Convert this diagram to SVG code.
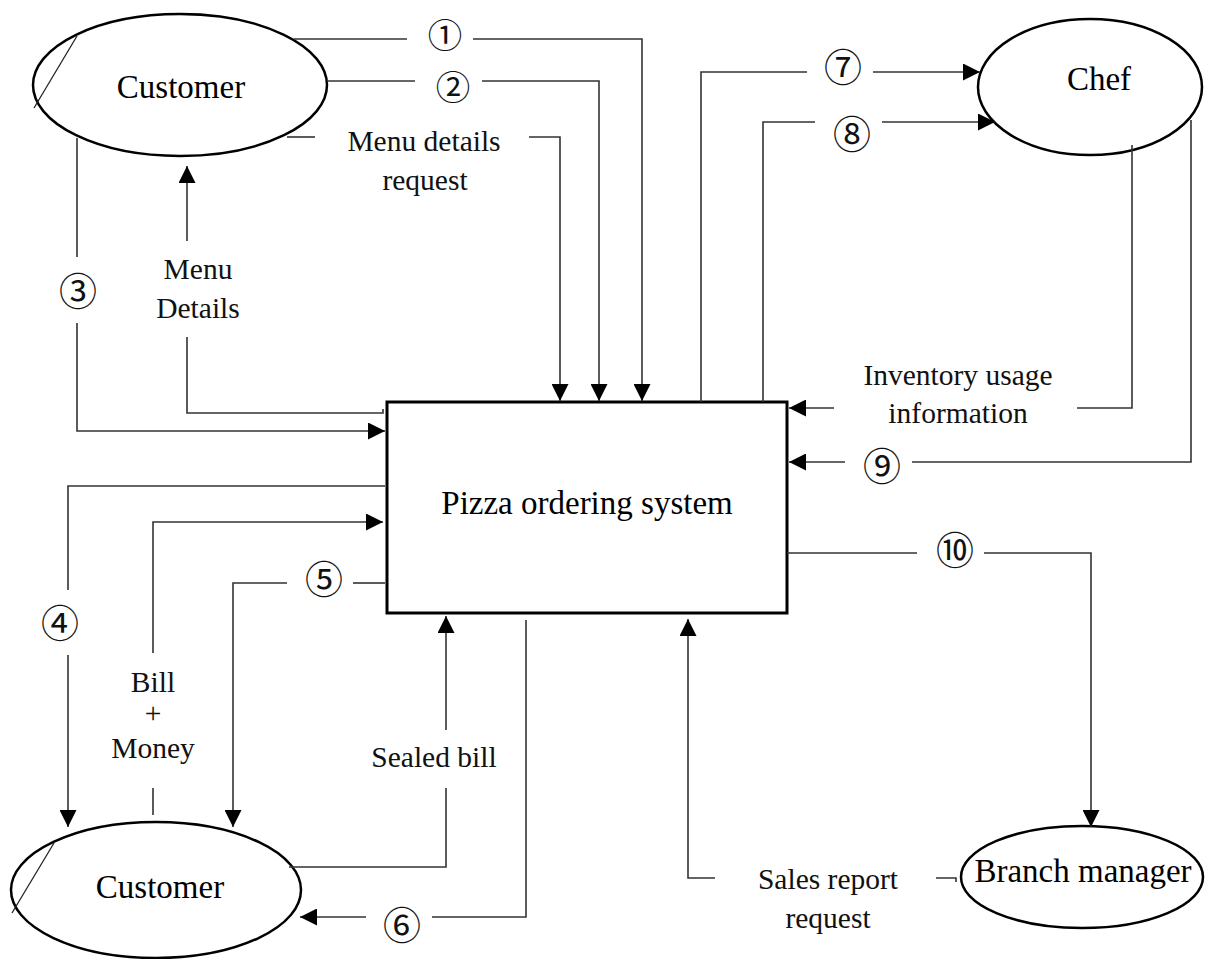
<svg xmlns="http://www.w3.org/2000/svg" width="1206" height="959" viewBox="0 0 1206 959">
<style>
.node{fill:none;stroke:#000;stroke-width:2.5}
.box{fill:#fff;stroke:#000;stroke-width:3}
.slash{stroke:#222;stroke-width:1.3}
.conn path{fill:none;stroke:#333;stroke-width:1.6}
.nt{font-family:"Liberation Serif","Times New Roman",serif;font-size:33px;fill:#000;text-anchor:middle}
.lb{font-family:"Liberation Serif","Times New Roman",serif;font-size:29.5px;fill:#111;text-anchor:middle}
.cn{font-family:"Noto Sans CJK JP","DejaVu Sans",sans-serif;font-size:38px;fill:#111;text-anchor:middle;dominant-baseline:central}
.cn.s{font-size:34.5px}
</style>
<defs>
<marker id="arr" viewBox="0 0 17 17" refX="17" refY="8.5" markerWidth="17" markerHeight="17" markerUnits="userSpaceOnUse" orient="auto">
<path d="M0,0 L17,8.5 L0,17 z" fill="#000"/>
</marker>
</defs>
<rect width="1206" height="959" fill="#fff"/>

<g id="customer-top">
<ellipse class="node" cx="180" cy="85" rx="147" ry="71"/>
<line class="slash" x1="77" y1="36" x2="34" y2="108"/>
<text class="nt" x="181" y="98">Customer</text>
</g>

<g id="chef">
<ellipse class="node" cx="1090" cy="87" rx="112" ry="68"/>
<text class="nt" x="1099" y="90">Chef</text>
</g>

<g id="pizza-ordering-system">
<rect class="box" x="387" y="402" width="400" height="211"/>
<text class="nt" x="587" y="514">Pizza ordering system</text>
</g>

<g id="customer-bottom">
<ellipse class="node" cx="156" cy="890" rx="145" ry="68"/>
<line class="slash" x1="54" y1="843" x2="12" y2="913"/>
<text class="nt" x="160" y="898">Customer</text>
</g>

<g id="branch-manager">
<ellipse class="node" cx="1082" cy="877" rx="121" ry="51"/>
<text class="nt" x="1083" y="882">Branch manager</text>
</g>

<g class="conn" id="connectors">
<!-- 1 -->
<path d="M294,39 H407"/>
<path d="M473,39 H642 V401" marker-end="url(#arr)"/>
<!-- 2 -->
<path d="M327,81 H415"/>
<path d="M482,81 H599 V401" marker-end="url(#arr)"/>
<!-- menu details request -->
<path d="M287,137 H315"/>
<path d="M529,137 H560 V401" marker-end="url(#arr)"/>
<!-- 3 -->
<path d="M77,138 V257"/>
<path d="M77,323 V431 H385" marker-end="url(#arr)"/>
<!-- menu details -->
<path d="M383,409 V413 H187 V337"/>
<path d="M187,241 V166" marker-end="url(#arr)"/>
<!-- 7 -->
<path d="M701,402 V72 H807"/>
<path d="M873,72 H980" marker-end="url(#arr)"/>
<!-- 8 -->
<path d="M763,402 V122 H815"/>
<path d="M882,122 H995" marker-end="url(#arr)"/>
<!-- inventory -->
<path d="M1132,145 V408 H1077"/>
<path d="M834,408 H789" marker-end="url(#arr)"/>
<!-- 9 -->
<path d="M1191,120 V462 H912"/>
<path d="M845,462 H789" marker-end="url(#arr)"/>
<!-- 10 -->
<path d="M787,553 H917"/>
<path d="M984,553 H1091 V827" marker-end="url(#arr)"/>
<!-- sales report -->
<path d="M956,882 V878 H936"/>
<path d="M715,878 H688 V619" marker-end="url(#arr)"/>
<!-- sealed bill -->
<path d="M289,867 H446 V788"/>
<path d="M446,730 V616" marker-end="url(#arr)"/>
<!-- 6 -->
<path d="M526,620 V917 H432"/>
<path d="M366,917 H300" marker-end="url(#arr)"/>
<!-- 4 -->
<path d="M385,486 H68 V590"/>
<path d="M68,655 V827" marker-end="url(#arr)"/>
<!-- bill + money -->
<path d="M153,815 V788"/>
<path d="M153,653 V522 H383" marker-end="url(#arr)"/>
<!-- 5 -->
<path d="M385,583 H353"/>
<path d="M287,583 H233 V827" marker-end="url(#arr)"/>
</g>

<g id="labels">
<text class="lb" x="424" y="151">Menu details</text>
<text class="lb" x="425" y="190">request</text>
<text class="lb" x="198" y="279">Menu</text>
<text class="lb" x="198" y="318">Details</text>
<text class="lb" x="958" y="385">Inventory usage</text>
<text class="lb" x="958" y="423">information</text>
<text class="lb" x="434" y="767">Sealed bill</text>
<text class="lb" x="153" y="692">Bill</text>
<text class="lb" x="153" y="723">+</text>
<text class="lb" x="153" y="758">Money</text>
<text class="lb" x="828" y="889">Sales report</text>
<text class="lb" x="828" y="928">request</text>
</g>

<g id="flow-numbers">
<text class="cn s" x="445" y="33">①</text>
<text class="cn s" x="453" y="85">②</text>
<text class="cn" x="78" y="288">③</text>
<text class="cn" x="60" y="620">④</text>
<text class="cn" x="324" y="576">⑤</text>
<text class="cn" x="402" y="922">⑥</text>
<text class="cn" x="843" y="64">⑦</text>
<text class="cn" x="852" y="131">⑧</text>
<text class="cn" x="882" y="463">⑨</text>
<text class="cn" x="955" y="547">⑩</text>
</g>
</svg>
